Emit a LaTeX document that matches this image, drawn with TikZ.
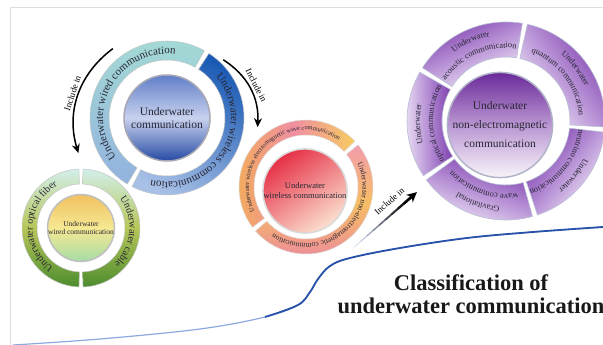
\documentclass[tikz,border=0pt]{standalone}
\usepackage{fontspec}
\setmainfont{Liberation Serif}
\usetikzlibrary{calc,arrows.meta,decorations.text}

\definecolor{wiredTop}{RGB}{164,220,212}
\definecolor{wiredBot}{RGB}{146,178,222}
\definecolor{wlessTop}{RGB}{26,90,180}
\definecolor{wlessBot}{RGB}{168,192,230}
\definecolor{commTop}{RGB}{96,126,200}
\definecolor{commMid}{RGB}{200,210,238}
\definecolor{commBot}{RGB}{38,74,164}
\definecolor{fiberTop}{RGB}{210,239,234}
\definecolor{fiberMid}{RGB}{182,198,88}
\definecolor{fiberBot}{RGB}{76,140,46}
\definecolor{wdiskTop}{RGB}{240,192,96}
\definecolor{wdiskMid}{RGB}{246,232,146}
\definecolor{wdiskBot}{RGB}{166,220,166}
\definecolor{emOrange}{RGB}{242,174,88}
\definecolor{emPink}{RGB}{240,142,162}
\definecolor{emYellow}{RGB}{246,204,96}
\definecolor{nemPink}{RGB}{242,156,172}
\definecolor{nemOrange}{RGB}{246,189,100}
\definecolor{nemRose}{RGB}{236,138,158}
\definecolor{wlDiskRed}{RGB}{230,48,70}
\definecolor{wlDiskPeach}{RGB}{251,224,208}
\definecolor{pringIn}{RGB}{122,58,172}
\definecolor{pringMid}{RGB}{184,146,214}
\definecolor{pringOut}{RGB}{242,236,248}
\definecolor{pdiskTop}{RGB}{106,42,154}
\definecolor{pdiskMid}{RGB}{186,150,210}
\definecolor{pdiskBot}{RGB}{248,244,250}
\definecolor{waveBlue}{RGB}{40,82,170}
\definecolor{waveLight}{RGB}{140,170,222}
\definecolor{arrowPale}{RGB}{200,214,240}
\definecolor{txtDark}{RGB}{40,38,52}
\definecolor{frameGray}{RGB}{222,222,222}

% ring text sizes
\newcommand\ringA{\fontsize{11}{13}\selectfont}
\newcommand\ringB{\fontsize{10}{12}\selectfont}
\newcommand\ringC{\fontsize{6.3}{7}\selectfont}
\newcommand\ringD{\fontsize{7.5}{9}\selectfont}
\newcommand\ringE{\fontsize{8.4}{10}\selectfont}

% centre, inner radius, outer radius, from angle, to angle
\newcommand\ringseg[5]{($(#1)+(#4:#3)$) arc[start angle=#4, end angle=#5, radius=#3] -- ($(#1)+(#5:#2)$) arc[start angle=#5, end angle=#4, radius=#2] -- cycle}
% centre, radius, middle angle, size, text
\newcommand\arctext[5]{\path[decorate, decoration={text along path, text align=center, text color=txtDark, text={|#4|#5}}] ($(#1)+({#3+89}:#2)$) arc[start angle=#3+89, end angle=#3-89, radius=#2];}

\begin{document}
\begin{tikzpicture}[x=1pt,y=1pt,
  disk/.style={circle, draw=gray!50, line width=1.5pt, inner sep=0pt, align=center, text=txtDark},
  seg/.style={draw=gray!45, line width=0.5pt},
  pseg/.style={draw={rgb,255:red,184;green,190;blue,214}, line width=0.6pt},
  incl/.style={line width=1.5pt, -{Stealth[length=9pt,width=8pt]}},
  lbl/.style={font=\fontsize{9}{10}\selectfont, inner sep=1pt}]
\fill[white] (0,0) rectangle (603,345);
\useasboundingbox (0,0) rectangle (603,345);
\draw[frameGray, line width=0.8pt] (10,0) -- (10,338) -- (603,338);

% blue wave
\draw[line width=1.2pt, waveLight] plot[smooth, tension=0.6] coordinates {(13,0) (100,6) (200,16) (265,28) (298,40) (310,53) (318,66) (330,79) (350,87) (400,97) (467,107) (533,113) (603,118)};
\draw[line width=1.8pt, waveBlue] plot[smooth, tension=0.6] coordinates {(265,28) (298,40) (310,53) (318,66) (330,79) (350,87) (400,97) (467,107) (533,113) (603,118)};

% underwater communication
\node[disk, minimum size=86pt, draw={rgb,255:red,168;green,168;blue,180}, top color=commTop, bottom color=commBot, middle color=commMid, font=\fontsize{11.5}{13}\selectfont] (comm) at (167,227) {Underwater\\communication};
\shadedraw[seg, top color=wiredTop, bottom color=wiredBot] \ringseg{comm}{58}{77}{61}{239};
\shadedraw[seg, top color=wlessTop, bottom color=wlessBot, shading angle=-30] \ringseg{comm}{58}{77}{-117}{57};
\arctext{comm}{64}{150}{\ringA}{Underwater wired communication}
\arctext{comm}{64}{-32}{\ringA}{Underwater wireless communication}

% underwater wired communication
\node[disk, minimum size=62pt, top color=wdiskTop, bottom color=wdiskBot, middle color=wdiskMid, font=\fontsize{7.5}{8.5}\selectfont] (wired) at (81,117) {Underwater\\wired communication};
\shadedraw[seg, top color=fiberTop, bottom color=fiberBot, middle color=fiberMid] \ringseg{wired}{44}{59}{92}{268};
\shadedraw[seg, top color=fiberTop, bottom color=fiberBot, middle color=fiberMid] \ringseg{wired}{44}{59}{-88}{88};
\arctext{wired}{48.5}{177}{\ringB}{Underwater optical fiber}
\arctext{wired}{48.5}{-5}{\ringB}{Underwater cable}

% underwater wireless communication
\node[disk, minimum size=84pt, draw=gray!30, top color=wlDiskRed, bottom color=wlDiskPeach, shading angle=35, font=\fontsize{8.5}{10}\selectfont] (wless) at (305,154) {Underwater\\wireless communication};
\coordinate (wlc) at (306,158);
\shadedraw[seg, draw=gray!25, left color=emOrange, right color=emYellow, middle color=emPink] \ringseg{wlc}{52}{67}{43}{217};
\shadedraw[seg, draw=gray!25, top color=nemPink, bottom color=nemRose, middle color=nemOrange] \ringseg{wlc}{52}{67}{-139}{39};
\arctext{wlc}{57}{130}{\ringC}{Underwater wireless electromagnetic wave communication}
\arctext{wlc}{56.5}{-50}{\ringD}{Underwater non-electromagnetic communication}

% underwater non-electromagnetic communication
\node[disk, minimum size=104pt, draw={rgb,255:red,176;green,180;blue,200}, top color=pdiskTop, bottom color=pdiskBot, middle color=pdiskMid, font=\fontsize{11.5}{19}\selectfont] (nonem) at (500,220) {Underwater\\non-electromagnetic\\communication};
\coordinate (nec) at (506,224);
\foreach \a/\b/\s in {150.5/213.5/-88, 80.5/147.5/24, -3.5/77.5/-53, -71.5/-6.5/51, 216.5/285.5/-19}
  \shadedraw[pseg, top color=pringIn, bottom color=pringOut, middle color=pringMid, shading angle=\s] \ringseg{nec}{64}{99}{\a}{\b};
\arctext{nec}{86}{182}{\ringE}{Underwater}
\arctext{nec}{73}{182}{\ringE}{optical communication}
\arctext{nec}{86}{114}{\ringE}{Underwater}
\arctext{nec}{73}{114}{\ringE}{acoustic communication}
\arctext{nec}{86}{37}{\ringE}{Underwater}
\arctext{nec}{73}{37}{\ringE}{quantum communication}
\arctext{nec}{86}{-39}{\ringE}{Underwater}
\arctext{nec}{73}{-39}{\ringE}{neutrino communication}
\arctext{nec}{86}{251}{\ringE}{Gravitational}
\arctext{nec}{73}{251}{\ringE}{wave communication}

% include in
\draw[incl] ($(comm)+(128:88)$) to[bend right=35] node[lbl, midway, sloped, above=1pt] {Include in} ($(wired)+(92:75)$);
\draw[incl] ($(comm)+(46:81)$) to[bend left=30] node[lbl, midway, sloped, above=2pt] {Include in} ($(wlc)+(129:77)$);
\coordinate (a3s) at ($(wlc)+(-51:77)$);
\coordinate (a3e) at ($(nec)+(218.6:114)$);
\foreach \i in {0,...,8}{
  \pgfmathsetmacro\k{12.5*\i}
  \draw[line width=0.6pt+0.25pt*\i, line cap=round, black!\k!arrowPale] ($(a3s)!\i/10!(a3e)$) -- ($(a3s)!\i/10+0.1!(a3e)$);
}
\draw[line width=2.6pt, -{Stealth[length=10pt,width=10pt]}] ($(a3s)!0.88!(a3e)$) -- (a3e);
\path (a3s) -- node[lbl, pos=0.68, sloped, above=7pt] {Include in} (a3e);

\node[font=\bfseries\fontsize{22.5}{23}\selectfont, align=center, text=black!90] (title) at (471,51) {Classification of\\underwater communication};
\end{tikzpicture}
\end{document}
